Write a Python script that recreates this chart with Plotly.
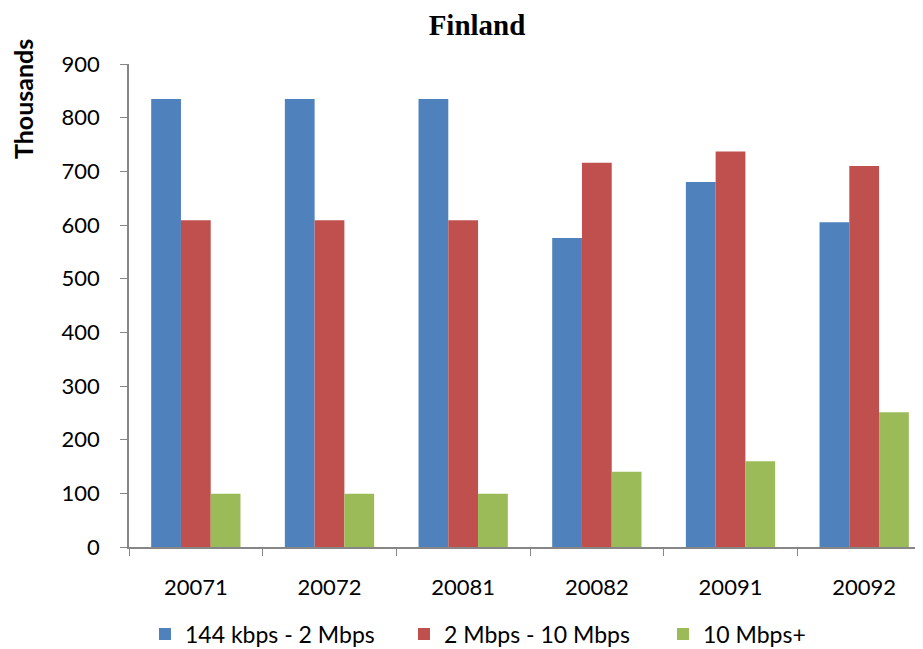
import plotly.graph_objects as go

categories = ["20071", "20072", "20081", "20082", "20091", "20092"]
series_names = ["144 kbps - 2 Mbps", "2 Mbps - 10 Mbps", "10 Mbps+"]
low_speed = [835, 835, 835, 576, 680, 605]
mid_speed = [609, 609, 609, 716, 737, 710]
high_speed = [99, 99, 99, 140, 160, 251]
colors = ["#4F81BD", "#C0504D", "#9BBB59"]

fig = go.Figure()
for name, vals, col in zip(series_names, [low_speed, mid_speed, high_speed], colors):
    fig.add_trace(go.Bar(x=categories, y=vals, name=name, marker_color=col,
                         marker_line_width=0))

font_main = "Lato, Open Sans, sans-serif"
fig.update_layout(
    width=915, height=641,
    margin=dict(l=121, r=0, t=56, b=102, autoexpand=False),
    paper_bgcolor="white", plot_bgcolor="white",
    barmode="group", bargap=0.332, bargroupgap=0,
    title=dict(text="<b>Finland</b>", x=0.5126, xanchor="center", y=0.973, yanchor="middle",
               font=dict(family="Liberation Serif, Times New Roman, serif", size=29, color="black")),
    font=dict(family=font_main, size=22, color="black"),
    legend=dict(orientation="h", xref="container", yref="container",
                x=0.1497, xanchor="left", y=0.0234, yanchor="middle",
                font=dict(size=23), itemwidth=30, entrywidth=214, entrywidthmode="pixels",
                traceorder="normal"),
    showlegend=True,
    annotations=[dict(text="<b>Thousands</b>", textangle=-90, xref="paper", yref="paper",
                      x=-0.1335, y=0.9275, xanchor="center", yanchor="middle",
                      showarrow=False, font=dict(size=25, family=font_main, color="black"))],
)
fig.update_yaxes(range=[0, 900], dtick=100, showgrid=False, zeroline=False,
                 showline=True, linecolor="#868686", linewidth=1.5,
                 ticks="outside", ticklen=7, tickcolor="#868686", ticklabelstandoff=16,
                 tickfont=dict(size=22, family=font_main))
fig.update_xaxes(range=[-0.5, 5.44], showgrid=False, showline=True, linecolor="#868686",
                 linewidth=1.5, ticks="outside", ticklen=7, tickcolor="#868686",
                 tickson="boundaries", ticklabelstandoff=20,
                 tickfont=dict(size=22, family=font_main))
fig.write_html("out.html")
